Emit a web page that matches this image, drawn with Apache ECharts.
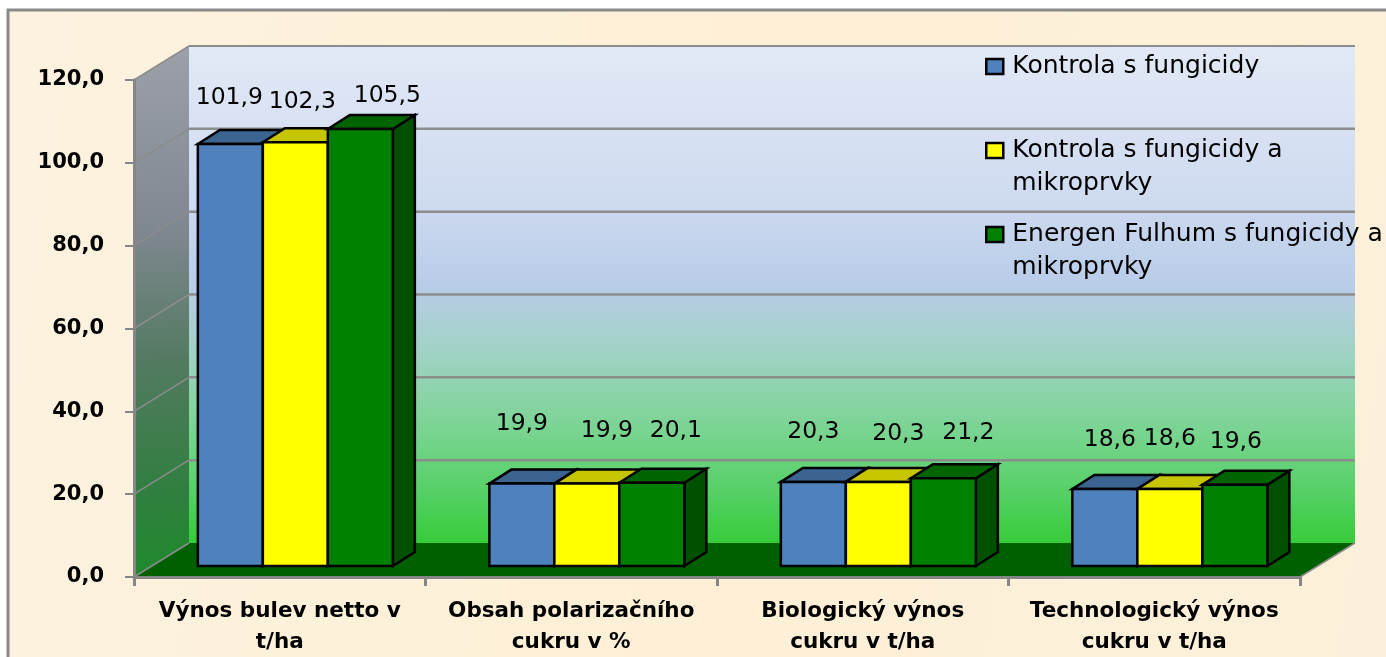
<!DOCTYPE html>
<html>
<head>
<meta charset="utf-8">
<style>html,body{margin:0;padding:0;background:#fff;overflow:hidden}#c{width:1386px;height:657px}</style>
<script src="https://cdn.jsdelivr.net/npm/echarts@6/dist/echarts.min.js"></script>
</head>
<body>
<div id="c"></div>
<script>
const categories = ['Výnos bulev netto v\nt/ha', 'Obsah polarizačního\ncukru v %', 'Biologický výnos\ncukru v t/ha', 'Technologický výnos\ncukru v t/ha'];
const seriesNames = ['Kontrola s fungicidy', 'Kontrola s fungicidy a mikroprvky', 'Energen Fulhum s fungicidy a mikroprvky'];
const kontrola = [101.9, 19.9, 20.3, 18.6];
const kontrolaMikro = [102.3, 19.9, 20.3, 18.6];
const energen = [105.5, 20.1, 21.2, 19.6];
const yTicks = [0, 20, 40, 60, 80, 100, 120];

// styling and layout, kept apart from the data
const faceColors = [
  {front: '#4f81bd', top: '#3b6491', side: '#2f5079'},
  {front: '#ffff00', top: '#c6c600', side: '#9a9a00'},
  {front: '#008000', top: '#006400', side: '#005000'}
];
const labelShift = [
  [[-1,-46],[0,-60],[0,-50],[5,-49]],
  [[7,-40],[20,-53],[20,-48],[0,-50]],
  [[27,-33],[24,-52],[25,-45],[1,-43]]
];
const WALL_DX = 55, WALL_DY = 34, BAR_DX = 15.6, BAR_DY = 11, TOP_DX = 22, TOP_DY = 14, BAR_W = 65;
const FONT = '"DejaVu Sans"';
const GRID_LINE = '#8c8c8c';

function fmt(v){ return v.toFixed(1).replace('.', ','); }

function renderScene(params, api){
  const r = params.coordSys;
  const x0 = r.x, x1 = r.x + r.width, yT = r.y, yB = r.y + r.height;
  const kids = [];
  kids.push({type:'polygon', shape:{points:[[x0+WALL_DX,yT-WALL_DY],[x1+WALL_DX,yT-WALL_DY],[x1+WALL_DX,yB-WALL_DY],[x0+WALL_DX,yB-WALL_DY]]},
    style:{fill:{type:'linear',x:0,y:0,x2:0,y2:1,colorStops:[
      {offset:0,color:'#e2e9f6'},{offset:0.3,color:'#cfdbf0'},{offset:0.48,color:'#b9cce8'},
      {offset:0.62,color:'#a0d2c4'},{offset:0.78,color:'#78d48f'},{offset:0.9,color:'#55d065'},{offset:1,color:'#36cc3a'}]}}});
  kids.push({type:'polygon', shape:{points:[[x0,yB],[x0,yT],[x0+WALL_DX,yT-WALL_DY],[x0+WALL_DX,yB-WALL_DY]]},
    style:{fill:{type:'linear',x:0,y:0,x2:0.35,y2:1,colorStops:[
      {offset:0,color:'#9da1a9'},{offset:0.35,color:'#7f8790'},{offset:0.6,color:'#527a60'},{offset:0.85,color:'#2f7f3e'},{offset:1,color:'#1f8a2c'}]}}});
  kids.push({type:'polygon', shape:{points:[[x0,yB],[x1,yB],[x1+WALL_DX,yB-WALL_DY],[x0+WALL_DX,yB-WALL_DY]]},
    style:{fill:'#006000'}});
  yTicks.forEach(function(t){
    const y = api.coord([0,t])[1];
    const w = (t===0||t===120) ? 2 : 2.5;
    if(t>0) kids.push({type:'line', shape:{x1:x0+WALL_DX,y1:y-WALL_DY,x2:x1+WALL_DX,y2:y-WALL_DY}, style:{stroke:GRID_LINE,lineWidth:w}});
    kids.push({type:'line', shape:{x1:x0,y1:y,x2:x0+WALL_DX,y2:y-WALL_DY}, style:{stroke:GRID_LINE,lineWidth:1.5}});
  });
  kids.push({type:'line', shape:{x1:x1,y1:yB,x2:x1+WALL_DX,y2:yB-WALL_DY}, style:{stroke:GRID_LINE,lineWidth:1.5}});
  return {type:'group', children:kids};
}

function makeBars(si){
  return function(params, api){
    const cat = api.value(0), val = api.value(1);
    const base = api.coord([cat, 0]), top = api.coord([cat, val]);
    const L = base[0] + BAR_DX + (si - 1.5) * BAR_W, R = L + BAR_W;
    const yB = base[1] - BAR_DY, yT = top[1] - BAR_DY;
    const c = faceColors[si];
    const st = {stroke:'#000', lineWidth:2.5, lineJoin:'miter'};
    const sh = labelShift[si][cat];
    return {type:'group', children:[
      {type:'polygon', shape:{points:[[R,yB],[R+TOP_DX,yB-TOP_DY],[R+TOP_DX,yT-TOP_DY],[R,yT]]}, style:Object.assign({fill:c.side},st)},
      {type:'polygon', shape:{points:[[L,yT],[L+TOP_DX,yT-TOP_DY],[R+TOP_DX,yT-TOP_DY],[R,yT]]}, style:Object.assign({fill:c.top},st)},
      {type:'rect', shape:{x:L,y:yT,width:BAR_W,height:yB-yT}, style:Object.assign({fill:c.front},st)},
      {type:'text', z2:50, style:{text:fmt(val), x:(L+R)/2+sh[0], y:yT+sh[1], align:'center', verticalAlign:'middle',
        fill:'#000', font:'23.5px '+FONT}}
    ]};
  };
}

const seriesData = [kontrola, kontrolaMikro, energen];
const chart = echarts.init(document.getElementById('c'), null, {renderer:'canvas'});
const legendTops = [50, 101, 185];

chart.setOption({
  animation:false,
  backgroundColor:'#ffffff',
  graphic:[
    {type:'rect', z:-10, shape:{x:8,y:10,width:1400,height:670},
     style:{fill:{type:'linear',x:0,y:0,x2:1,y2:0.3,colorStops:[
       {offset:0,color:'#fcf2df'},{offset:0.5,color:'#fef0d6'},{offset:1,color:'#fdf0da'}]},stroke:'#8a8a8a',lineWidth:3}}
  ],
  grid:{left:134, right:86, top:80, bottom:80, containLabel:false, outerBoundsMode:'none'},
  legend:seriesNames.map(function(n,i){
    return {data:[{name:n, icon:'rect'}], left:985, top:legendTops[i], orient:'vertical', padding:0,
      itemWidth:17, itemHeight:15, itemGap:0, selectedMode:false, z:20,
      itemStyle:{borderColor:'#000',borderWidth:2.5},
      formatter:function(name){
        const lines = name.split(' mikroprvky');
        return lines.length>1 ? '\n{t|'+lines[0]+'}\n{t|mikroprvky}' : '{t|'+name+'}';
      },
      textStyle:{fontFamily:FONT, fontSize:25, color:'#000', lineHeight:33,
        rich:{t:{fontFamily:FONT,fontSize:25,color:'#000',lineHeight:33,padding:[0,0,0,4]}}}};
  }),
  xAxis:{type:'category', data:categories, z:10,
    axisLine:{show:true,lineStyle:{color:'#868686',width:3}},
    axisTick:{show:true,length:9,alignWithLabel:false,lineStyle:{color:'#868686',width:3}},
    axisLabel:{interval:0,margin:19,fontFamily:FONT,fontSize:21.5,fontWeight:'bold',color:'#000',lineHeight:31},
    splitLine:{show:false}},
  yAxis:{type:'value', min:0, max:120, interval:20, z:10,
    axisLine:{show:true,lineStyle:{color:'#868686',width:3}},
    axisTick:{show:true,length:9,lineStyle:{color:'#868686',width:2}},
    axisLabel:{margin:30,fontFamily:FONT,fontSize:21,fontWeight:'bold',color:'#000',formatter:function(v){return fmt(v);}},
    splitLine:{show:false}},
  series:[{type:'custom', z:1, silent:true, clip:false, coordinateSystem:'cartesian2d', data:[[0,0]], encode:{x:0,y:1}, renderItem:renderScene}]
    .concat(seriesNames.map(function(n,si){
      return {type:'custom', name:n, z:3+si, clip:false, coordinateSystem:'cartesian2d', encode:{x:0,y:1},
        itemStyle:{color:faceColors[si].front, borderColor:'#000', borderWidth:2},
        data:seriesData[si].map(function(v,i){return [i,v];}),
        renderItem:makeBars(si)};
    }))
});
</script>
</body>
</html>
